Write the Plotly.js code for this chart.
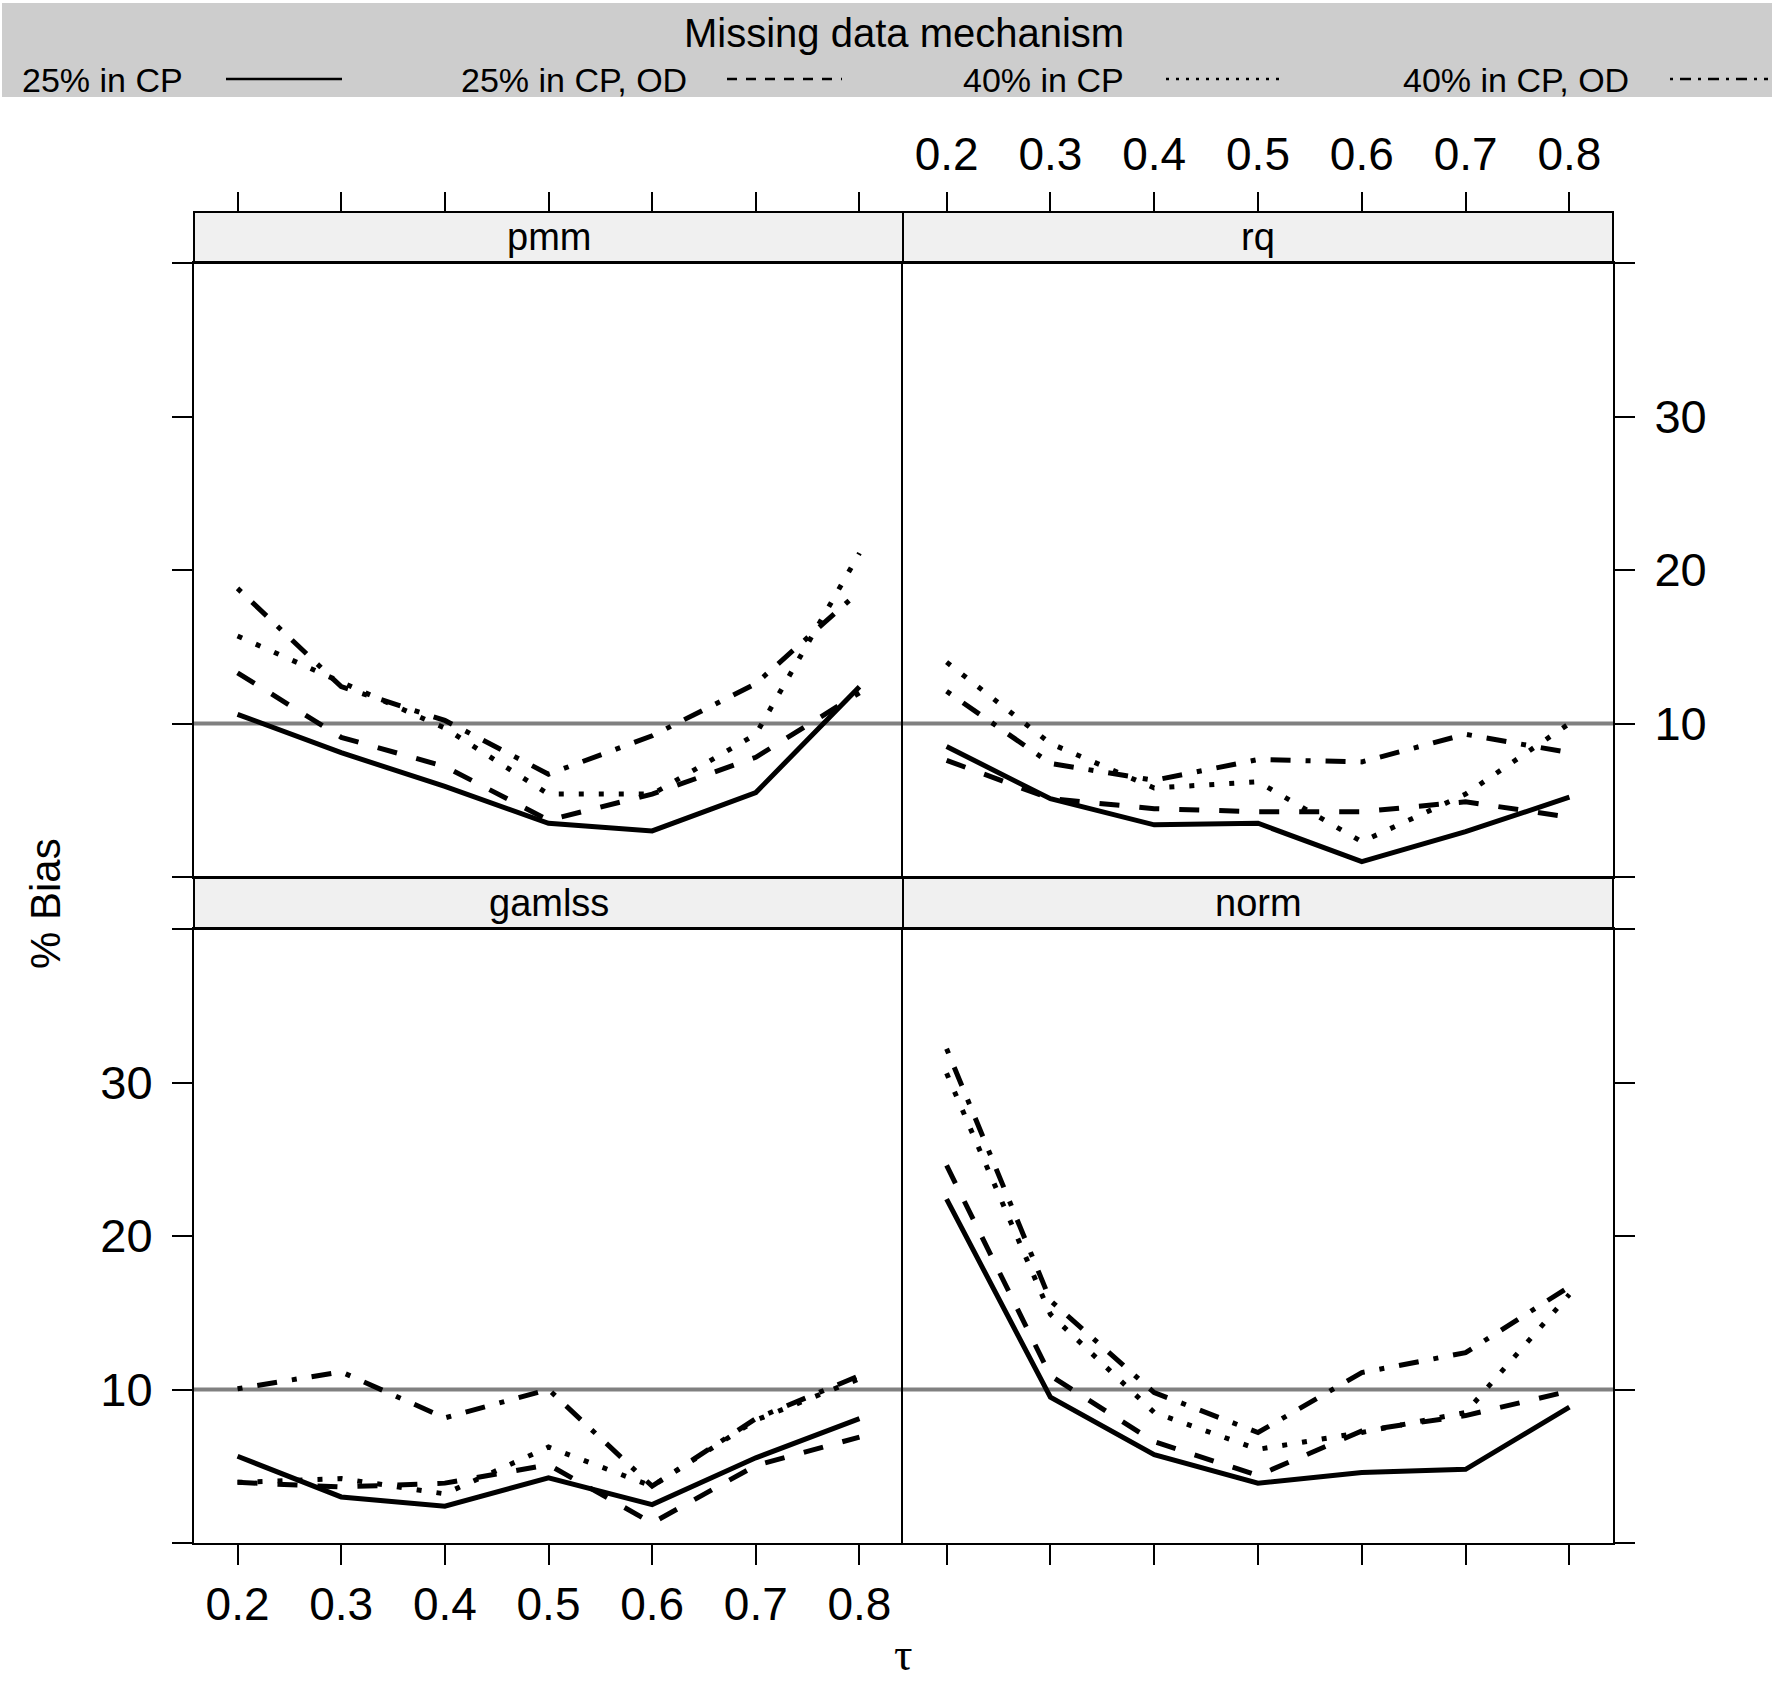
<!DOCTYPE html>
<html>
<head>
<meta charset="utf-8">
<script src="https://cdn.plot.ly/plotly-3.0.1.min.js"></script>
<style>
body{margin:0;padding:0;background:#fff;}
#chart{width:1772px;height:1687px;}
</style>
</head>
<body>
<div id="chart"></div>
<script>
var tau=[0.2,0.3,0.4,0.5,0.6,0.7,0.8];
var mechanisms=['25% in CP','25% in CP, OD','40% in CP','40% in CP, OD'];
var methods=['pmm','rq','gamlss','norm'];
var refLine=10;

// one row per mechanism, same order as mechanisms
var biasPmm=[
	[10.6,8.1,5.9,3.5,3.0,5.5,12.4],
	[13.3,9.1,7.2,3.7,5.4,7.8,12.0],
	[15.7,12.7,9.7,5.4,5.4,9.3,21.1],
	[18.8,12.4,10.2,6.7,9.2,12.6,18.6]
];
var biasRq=[
	[8.5,5.1,3.4,3.5,1.0,2.95,5.2],
	[7.6,5.1,4.45,4.25,4.25,4.9,3.9],
	[14.0,8.7,5.8,6.2,2.3,5.4,10.0],
	[12.1,7.4,6.3,7.65,7.5,9.3,8.1]
];
var biasGamlss=[
	[5.65,3.0,2.4,4.25,2.5,5.55,8.1],
	[3.95,3.65,3.9,5.1,1.3,5.05,6.9],
	[3.95,4.2,3.2,6.25,3.7,8.0,10.7],
	[10.05,11.15,8.15,10.0,3.7,8.1,10.9]
];
var biasNorm=[
	[22.4,9.5,5.75,3.9,4.6,4.8,8.85],
	[24.6,10.9,6.6,4.4,7.3,8.3,9.9],
	[30.6,14.9,8.5,6.1,7.2,8.5,16.2],
	[32.2,15.8,9.8,7.2,11.1,12.4,16.7]
];

var W=1772,H=1687;
function px(x){return x/W;}
function py(y){return 1-y/H;}

var FONT='Liberation Sans, Arial, sans-serif';
var lineDash=['solid','20px,20px','5px,15px','5px,15px,20px,15px'];
var legDash=['solid','10px,9px','3px,7px','3px,7px,11px,7px'];

function disp_panels(chartname)
{
	var PLOTMASTER=document.getElementById(chartname);
	var allBias=[biasPmm,biasRq,biasGamlss,biasNorm];
	var data=[];
	for (var p=0;p<4;p++){
		var suffix=(p==0)?'':String(p+1);
		for (var m=0;m<4;m++){
			data.push({
				x:tau,
				y:allBias[p][m],
				type:'scatter',
				mode:'lines',
				name:mechanisms[m],
				xaxis:'x'+suffix,
				yaxis:'y'+suffix,
				showlegend:false,
				hoverinfo:'skip',
				line:{color:'black',width:5,dash:lineDash[m]}
			});
		}
	}
	// empty traces so the tick axes above the strips get drawn
	data.push({x:tau,y:tau.map(function(){return null;}),xaxis:'x5',yaxis:'y',type:'scatter',mode:'lines',showlegend:false,hoverinfo:'skip'});
	data.push({x:tau,y:tau.map(function(){return null;}),xaxis:'x6',yaxis:'y2',type:'scatter',mode:'lines',showlegend:false,hoverinfo:'skip'});

	var colL=[px(194),px(903)], colR=[px(903),px(1613)];
	var rowT=[py(877),py(263)], rowB=[py(1543),py(929)];

	function xax(dom,anchor,ticks,labels){
		return {
			domain:dom,anchor:anchor,range:[0.158,0.842],
			tickvals:tau,ticktext:tau.map(function(v){return v.toFixed(1);}),
			showgrid:false,zeroline:false,
			showline:true,mirror:true,linecolor:'black',linewidth:2,
			ticks:ticks,ticklen:20,tickwidth:2,tickcolor:'black',
			showticklabels:labels,
			tickfont:{family:FONT,size:46,color:'black'}
		};
	}
	function yax(dom,anchor,side,labels){
		return {
			domain:dom,anchor:anchor,side:side,range:[0,40],
			tickvals:[0,10,20,30,40],ticktext:['','10','20','30',''],
			showgrid:false,zeroline:false,
			showline:true,mirror:(side=='right'),linecolor:'black',linewidth:2,
			ticks:'outside',ticklen:20,tickwidth:2,tickcolor:'black',
			ticklabelstandoff:10,
			showticklabels:labels,
			tickfont:{family:FONT,size:47,color:'black'}
		};
	}
	function topax(over,labels){
		return {
			overlaying:over,anchor:'free',position:py(212),side:'top',
			range:[0.158,0.842],
			tickvals:tau,ticktext:tau.map(function(v){return v.toFixed(1);}),
			showgrid:false,zeroline:false,showline:false,
			ticks:'outside',ticklen:20,tickwidth:2,tickcolor:'black',
			ticklabelstandoff:4,
			showticklabels:labels,
			tickfont:{family:FONT,size:46,color:'black'}
		};
	}

	var shapes=[];
	var annotations=[];

	// strips
	var strips=[[colL,py(263),py(212)],[colR,py(263),py(212)],[colL,py(929),py(877)],[colR,py(929),py(877)]];
	for (var s=0;s<4;s++){
		shapes.push({type:'rect',xref:'paper',yref:'paper',
			x0:strips[s][0][0],x1:strips[s][0][1],y0:strips[s][1],y1:strips[s][2],
			fillcolor:'#f0f0f0',line:{color:'black',width:2},layer:'below'});
		annotations.push({xref:'paper',yref:'paper',
			x:(strips[s][0][0]+strips[s][0][1])/2,y:(strips[s][1]+strips[s][2])/2,
			text:methods[s],showarrow:false,xanchor:'center',yanchor:'middle',
			font:{family:FONT,size:38,color:'black'}});
	}
	// reference line
	var refs=['','2','3','4'];
	for (var r=0;r<4;r++){
		shapes.push({type:'line',xref:'x'+refs[r]+' domain',yref:'y'+refs[r],
			x0:0,x1:1,y0:refLine,y1:refLine,layer:'below',
			line:{color:'#808080',width:4}});
	}

	// key on top
	shapes.push({type:'rect',xref:'paper',yref:'paper',x0:px(2),x1:1,y0:py(97),y1:py(3),
		fillcolor:'#cdcdcd',line:{width:0},layer:'below'});
	annotations.push({xref:'paper',yref:'paper',x:px(904),y:py(33),text:'Missing data mechanism',
		showarrow:false,xanchor:'center',yanchor:'middle',font:{family:FONT,size:40,color:'black'}});
	var keyText=[20,459,961,1401];
	var keyLine=[[226,342],[727,842],[1166,1285],[1670,1768]];
	for (var k=0;k<4;k++){
		annotations.push({xref:'paper',yref:'paper',x:px(keyText[k]),y:py(80),text:mechanisms[k],
			showarrow:false,xanchor:'left',yanchor:'middle',font:{family:FONT,size:34,color:'black'}});
		shapes.push({type:'line',xref:'paper',yref:'paper',
			x0:px(keyLine[k][0]),x1:px(keyLine[k][1]),y0:py(79),y1:py(79),
			line:{color:'black',width:2.6,dash:legDash[k]}});
	}

	annotations.push({xref:'paper',yref:'paper',x:px(45),y:py(904),text:'% Bias',textangle:-90,
		showarrow:false,xanchor:'center',yanchor:'middle',font:{family:FONT,size:42,color:'black'}});
	annotations.push({xref:'paper',yref:'paper',x:px(904),y:py(1654),text:'τ',
		showarrow:false,xanchor:'center',yanchor:'middle',font:{family:'Liberation Serif, DejaVu Serif, serif',size:46,color:'black'}});

	var layout={
		width:W,height:H,
		margin:{l:0,r:0,t:0,b:0},
		paper_bgcolor:'white',plot_bgcolor:'white',
		showlegend:false,
		xaxis:xax(colL,'y','',false),
		yaxis:yax(rowT,'x','left',false),
		xaxis2:xax(colR,'y2','',false),
		yaxis2:yax(rowT,'x2','right',true),
		xaxis3:xax(colL,'y3','outside',true),
		yaxis3:yax(rowB,'x3','left',true),
		xaxis4:xax(colR,'y4','outside',false),
		yaxis4:yax(rowB,'x4','right',false),
		xaxis5:topax('x',false),
		xaxis6:topax('x2',true),
		shapes:shapes,
		annotations:annotations
	};

	Plotly.newPlot(PLOTMASTER,data,layout,{staticPlot:true});
}

disp_panels('chart');
</script>
</body>
</html>
